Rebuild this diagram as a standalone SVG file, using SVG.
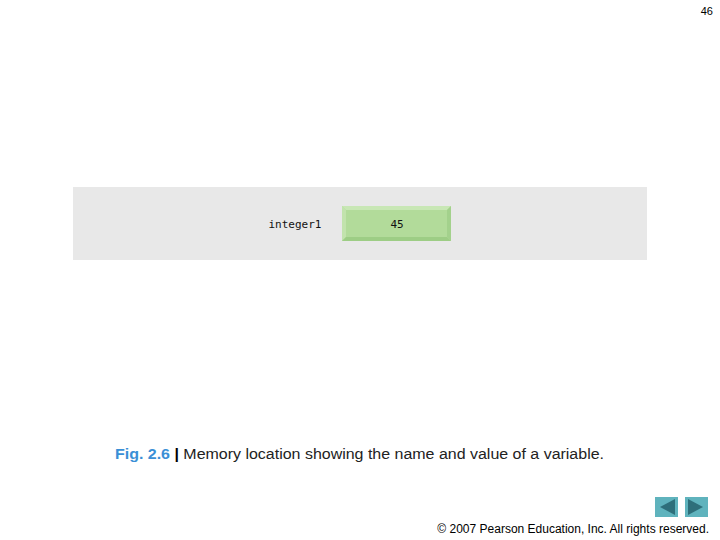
<svg xmlns="http://www.w3.org/2000/svg" width="720" height="540" viewBox="0 0 720 540">
<style>
.mono{font-family:"DejaVu Sans Mono","Liberation Mono",monospace;font-size:11px;fill:#111}
.sans{font-family:"Liberation Sans",Arial,sans-serif}
.btn{fill:#5fb3bd}
.arr{fill:#2e6f7a}
</style>
<rect width="720" height="540" fill="#fff"/>
<text x="713" y="15" class="sans" font-size="11" text-anchor="end" fill="#000">46</text>
<g id="panel">
<rect x="73" y="187" width="574" height="73" fill="#e8e8e8"/>
</g>
<g id="name">
<text x="295" y="228" class="mono" text-anchor="middle">integer1</text>
</g>
<g id="value">
<rect x="342" y="206" width="109" height="35" fill="#b4dc9c"/>
<polygon points="342,206 451,206 447,210 346,210" fill="#c8e7b5"/>
<polygon points="342,206 346,210 346,237 342,241" fill="#c2e3ad"/>
<polygon points="451,206 451,241 447,237 447,210" fill="#a3d18c"/>
<polygon points="342,241 451,241 447,237 346,237" fill="#9dcd85"/>
<rect x="346" y="210" width="101" height="27" fill="#b2db9a"/>
<text x="397" y="228" class="mono" text-anchor="middle">45</text>
</g>
<text x="115" y="459" class="sans" font-size="15.5" textLength="489" lengthAdjust="spacingAndGlyphs"><tspan fill="#3a8fd6" font-weight="bold">Fig. 2.6 </tspan><tspan fill="#000" font-weight="bold">| </tspan><tspan fill="#222">Memory location showing the name and value of a variable.</tspan></text>
<text x="709" y="533" class="sans" font-size="12" text-anchor="end" fill="#000">© 2007 Pearson Education, Inc.  All rights reserved.</text>
<g id="prev">
<rect x="655" y="497" width="23" height="20" class="btn"/>
<polygon points="660,507 675,499 675,515" class="arr"/>
</g>
<g id="next">
<rect x="685" y="497" width="23" height="20" class="btn"/>
<polygon points="703,507 688,499 688,515" class="arr"/>
</g>
</svg>
